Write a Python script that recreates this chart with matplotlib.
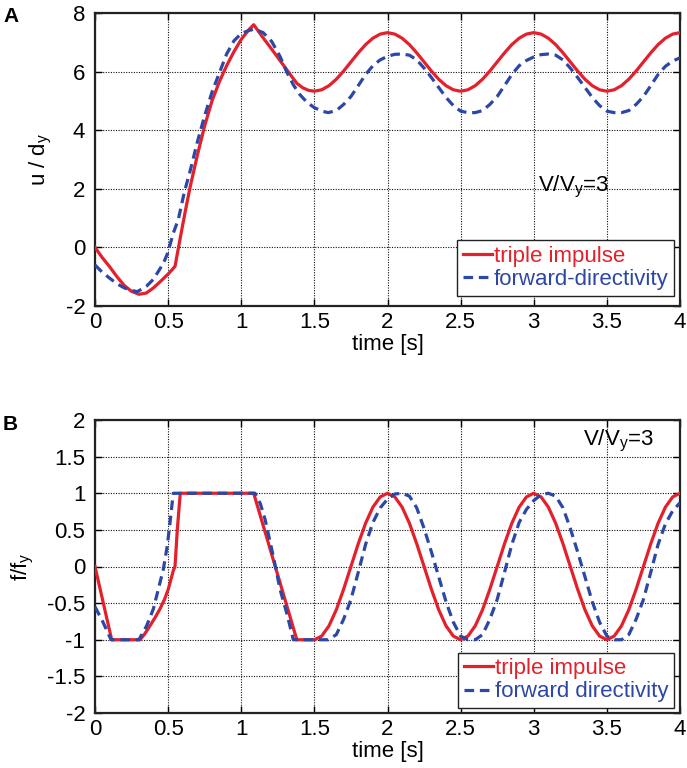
import matplotlib
matplotlib.use("Agg")
import matplotlib.pyplot as plt

plt.rcParams['font.family'] = ['Liberation Sans', 'DejaVu Sans']
plt.rcParams['axes.unicode_minus'] = False
plt.rcParams['mathtext.fontset'] = 'custom'
plt.rcParams['mathtext.rm'] = 'Liberation Sans'
plt.rcParams['mathtext.it'] = 'Liberation Sans'

# ---------------- data ----------------
# Panel A: u/dy
t_ti_u = [0, 0.05, 0.10, 0.15, 0.20, 0.25, 0.30, 0.35, 0.40, 0.45, 0.50, 0.547,
          0.585, 0.62, 0.65, 0.70, 0.75, 0.80, 0.85, 0.90, 0.95, 1.00, 1.05, 1.085,
          1.15, 1.20, 1.25, 1.30, 1.35, 1.38, 1.42, 1.46, 1.50,
          1.55, 1.60, 1.65, 1.70, 1.75, 1.80, 1.85, 1.90, 1.95, 2.00,
          2.05, 2.10, 2.15, 2.20, 2.25, 2.30, 2.35, 2.40, 2.45, 2.50,
          2.55, 2.60, 2.65, 2.70, 2.75, 2.80, 2.85, 2.90, 2.95, 3.00,
          3.05, 3.10, 3.15, 3.20, 3.25, 3.30, 3.35, 3.40, 3.45, 3.50,
          3.55, 3.60, 3.65, 3.70, 3.75, 3.80, 3.85, 3.90, 3.95, 4.00]
ti_u = [0, -0.35, -0.66, -1.0, -1.3, -1.5, -1.6, -1.56, -1.38, -1.15, -0.91, -0.65,
        0.38, 1.3, 2.05, 3.15, 4.15, 5.0, 5.65, 6.2, 6.68, 7.1, 7.42, 7.6,
        7.15, 6.82, 6.48, 6.14, 5.8, 5.6, 5.45, 5.36, 5.33,
        5.38, 5.52, 5.74, 6.02, 6.33, 6.64, 6.92, 7.14, 7.28, 7.33,
        7.28, 7.14, 6.92, 6.64, 6.33, 6.02, 5.74, 5.52, 5.38, 5.33,
        5.38, 5.52, 5.74, 6.02, 6.33, 6.64, 6.92, 7.14, 7.28, 7.33,
        7.28, 7.14, 6.92, 6.64, 6.33, 6.02, 5.74, 5.52, 5.38, 5.33,
        5.38, 5.52, 5.74, 6.02, 6.33, 6.64, 6.92, 7.14, 7.28, 7.33]

t_fd_u = [0, 0.05, 0.10, 0.15, 0.20, 0.25, 0.29, 0.353, 0.399, 0.433, 0.467, 0.494,
          0.513, 0.535, 0.57, 0.61, 0.65, 0.70, 0.75, 0.80, 0.85, 0.90, 0.95, 1.00,
          1.05, 1.09, 1.15, 1.208, 1.265, 1.31, 1.356, 1.40, 1.45, 1.50, 1.55, 1.595,
          1.65, 1.70, 1.75, 1.80, 1.85, 1.90, 1.95, 2.00, 2.05, 2.10,
          2.15, 2.20, 2.25, 2.30, 2.35, 2.40, 2.45, 2.50, 2.55, 2.60,
          2.65, 2.70, 2.75, 2.80, 2.85, 2.90, 2.95, 3.00, 3.05, 3.10,
          3.15, 3.20, 3.25, 3.30, 3.35, 3.40, 3.45, 3.50, 3.55, 3.60,
          3.65, 3.70, 3.75, 3.80, 3.85, 3.90, 3.95, 4.00]
fd_u = [-0.6, -0.85, -1.05, -1.24, -1.38, -1.47, -1.51, -1.32, -1.09, -0.82, -0.55, -0.23,
        0.09, 0.48, 0.96, 1.87, 2.6, 3.6, 4.5, 5.3, 5.95, 6.6, 7.05, 7.3,
        7.4, 7.45, 7.33, 7.03, 6.52, 6.0, 5.55, 5.22, 4.95, 4.77, 4.65, 4.6,
        4.67, 4.88, 5.15, 5.52, 5.9, 6.2, 6.4, 6.52, 6.59, 6.6,
        6.56, 6.4, 6.12, 5.8, 5.46, 5.12, 4.84, 4.65, 4.6, 4.6,
        4.67, 4.88, 5.15, 5.52, 5.9, 6.2, 6.38, 6.5, 6.58, 6.6,
        6.56, 6.4, 6.12, 5.8, 5.46, 5.12, 4.84, 4.65, 4.6, 4.6,
        4.67, 4.88, 5.15, 5.52, 5.9, 6.18, 6.36, 6.47]

# Panel B: f/fy
t_ti_f = [0, 0.114, 0.308, 0.34, 0.376, 0.41, 0.444, 0.475, 0.501, 0.535, 0.547,
          0.563, 0.583, 1.085, 1.38, 1.50,
          1.55, 1.60, 1.65, 1.70, 1.75, 1.80, 1.85, 1.90, 1.95, 2.00,
          2.05, 2.10, 2.15, 2.20, 2.25, 2.30, 2.35, 2.40, 2.45, 2.50,
          2.55, 2.60, 2.65, 2.70, 2.75, 2.80, 2.85, 2.90, 2.95, 3.00,
          3.05, 3.10, 3.15, 3.20, 3.25, 3.30, 3.35, 3.40, 3.45, 3.50,
          3.55, 3.60, 3.65, 3.70, 3.75, 3.80, 3.85, 3.90, 3.95, 4.00]
ti_f = [0, -1.0, -1.0, -0.92, -0.81, -0.7, -0.58, -0.45, -0.31, -0.06, 0.0,
        0.51, 1.0, 1.0, -1.0, -1.0,
        -0.95, -0.81, -0.59, -0.31, 0.0, 0.31, 0.59, 0.81, 0.95, 1.0,
        0.95, 0.81, 0.59, 0.31, 0.0, -0.31, -0.59, -0.81, -0.95, -1.0,
        -0.95, -0.81, -0.59, -0.31, 0.0, 0.31, 0.59, 0.81, 0.95, 1.0,
        0.95, 0.81, 0.59, 0.31, 0.0, -0.31, -0.59, -0.81, -0.95, -1.0,
        -0.95, -0.81, -0.59, -0.31, 0.0, 0.31, 0.59, 0.81, 0.95, 1.0]

t_fd_f = [0, 0.05, 0.11, 0.30, 0.353, 0.399, 0.433, 0.467, 0.494, 0.513, 0.535,
          1.094, 1.13, 1.162, 1.19, 1.219, 1.265, 1.31, 1.344, 1.356, 1.595,
          1.65, 1.70, 1.75, 1.80, 1.85, 1.90, 1.95, 2.00, 2.05, 2.10,
          2.15, 2.20, 2.25, 2.30, 2.35, 2.40, 2.45, 2.50, 2.55, 2.60,
          2.65, 2.70, 2.75, 2.80, 2.85, 2.90, 2.95, 3.00, 3.05, 3.10,
          3.15, 3.20, 3.25, 3.30, 3.35, 3.40, 3.45, 3.50, 3.55, 3.60,
          3.65, 3.70, 3.75, 3.80, 3.85, 3.90, 3.95, 4.00]
fd_f = [-0.55, -0.74, -1.0, -1.0, -0.81, -0.58, -0.31, -0.04, 0.28, 0.6, 1.0,
        1.0, 0.86, 0.65, 0.4, 0.14, -0.31, -0.63, -0.9, -1.0, -1.0,
        -0.93, -0.72, -0.45, -0.08, 0.3, 0.6, 0.8, 0.92, 0.99, 1.0,
        0.96, 0.8, 0.52, 0.2, -0.14, -0.48, -0.76, -0.95, -1.0, -1.0,
        -0.93, -0.72, -0.45, -0.08, 0.3, 0.6, 0.78, 0.9, 0.98, 1.0,
        0.96, 0.8, 0.52, 0.2, -0.14, -0.48, -0.76, -0.95, -1.0, -1.0,
        -0.93, -0.72, -0.45, -0.08, 0.3, 0.58, 0.76, 0.87]

x_ticks = [0, 0.5, 1, 1.5, 2, 2.5, 3, 3.5, 4]
x_ticklabels = ['0', '0.5', '1', '1.5', '2', '2.5', '3', '3.5', '4']
yA_ticks = [-2, 0, 2, 4, 6, 8]
yB_ticks = [-2, -1.5, -1, -0.5, 0, 0.5, 1, 1.5, 2]
yB_ticklabels = ['-2', '-1.5', '-1', '-0.5', '0', '0.5', '1', '1.5', '2']

RED = '#E3202B'
BLUE = '#2C47A6'

W, H = 687, 768
fig = plt.figure(figsize=(W / 100, H / 100), dpi=100)

def box(l, t, r, b):
    return [l / W, 1 - b / H, (r - l) / W, (b - t) / H]

axA = fig.add_axes(box(95, 13, 680, 306))
axB = fig.add_axes(box(95, 420, 680, 713))

FS = 16

def style(ax):
    ax.set_xlim(0, 4)
    ax.set_xticks(x_ticks)
    ax.set_xticklabels(x_ticklabels)
    ax.grid(True, color='#111111', linestyle=(0, (1, 1.3)), linewidth=0.8)
    ax.tick_params(direction='in', top=True, right=True, length=5, width=1,
                   labelsize=FS)
    ax.tick_params(axis='x', pad=4)
    ax.tick_params(axis='y', pad=7)
    for s in ax.spines.values():
        s.set_linewidth(1.6)
        s.set_color('#222222')
    ax.set_xlabel('time [s]', fontsize=FS, labelpad=1)

def legend(ax, anchor):
    leg = ax.legend(loc='lower right', bbox_to_anchor=anchor, borderaxespad=0,
                    fontsize=FS, handlelength=1.3, handletextpad=0.1,
                    borderpad=0.25, labelspacing=0.1, fancybox=False,
                    edgecolor='#222222', framealpha=1, borderaxespad_=None) if False else \
          ax.legend(loc='lower right', bbox_to_anchor=anchor, borderaxespad=0,
                    fontsize=FS, handlelength=1.3, handletextpad=0.1,
                    borderpad=0.25, labelspacing=0.1, fancybox=False,
                    edgecolor='#222222', framealpha=1)
    leg.get_frame().set_linewidth(1.0)
    for txt, c in zip(leg.get_texts(), [RED, BLUE]):
        txt.set_color(c)
    return leg

# Panel A
axA.plot(t_ti_u, ti_u, color=RED, lw=2.3, label='triple impulse', zorder=3)
axA.plot(t_fd_u, fd_u, color=BLUE, lw=2.3, linestyle=(0, (3, 1.8)),
         label='forward-directivity', zorder=4)
style(axA)
axA.set_ylim(-2, 8)
axA.set_yticks(yA_ticks)
axA.set_ylabel(r'u / d$_\mathregular{y}$', fontsize=FS, labelpad=8)
axA.text(3.03, 2.05, r'V/V$_\mathregular{y}$=3', fontsize=FS, va='center', ha='left')
legend(axA, (0.99, 0.035))

# Panel B
axB.plot(t_ti_f, ti_f, color=RED, lw=2.3, label='triple impulse', zorder=3)
axB.plot(t_fd_f, fd_f, color=BLUE, lw=2.3, linestyle=(0, (3, 1.8)),
         label='forward directivity', zorder=4)
style(axB)
axB.set_ylim(-2, 2)
axB.set_yticks(yB_ticks)
axB.set_yticklabels(yB_ticklabels)
axB.set_ylabel(r'f/f$_\mathregular{y}$', fontsize=FS, labelpad=8)
axB.text(3.34, 1.72, r'V/V$_\mathregular{y}$=3', fontsize=FS, va='center', ha='left')
legend(axB, (0.99, 0.017))

fig.text(3 / W, 1 - 16 / H, 'A', fontsize=15, fontweight='bold', va='center', ha='left')
fig.text(3 / W, 1 - 424 / H, 'B', fontsize=15, fontweight='bold', va='center', ha='left')

fig.savefig('out.png', dpi=100)
